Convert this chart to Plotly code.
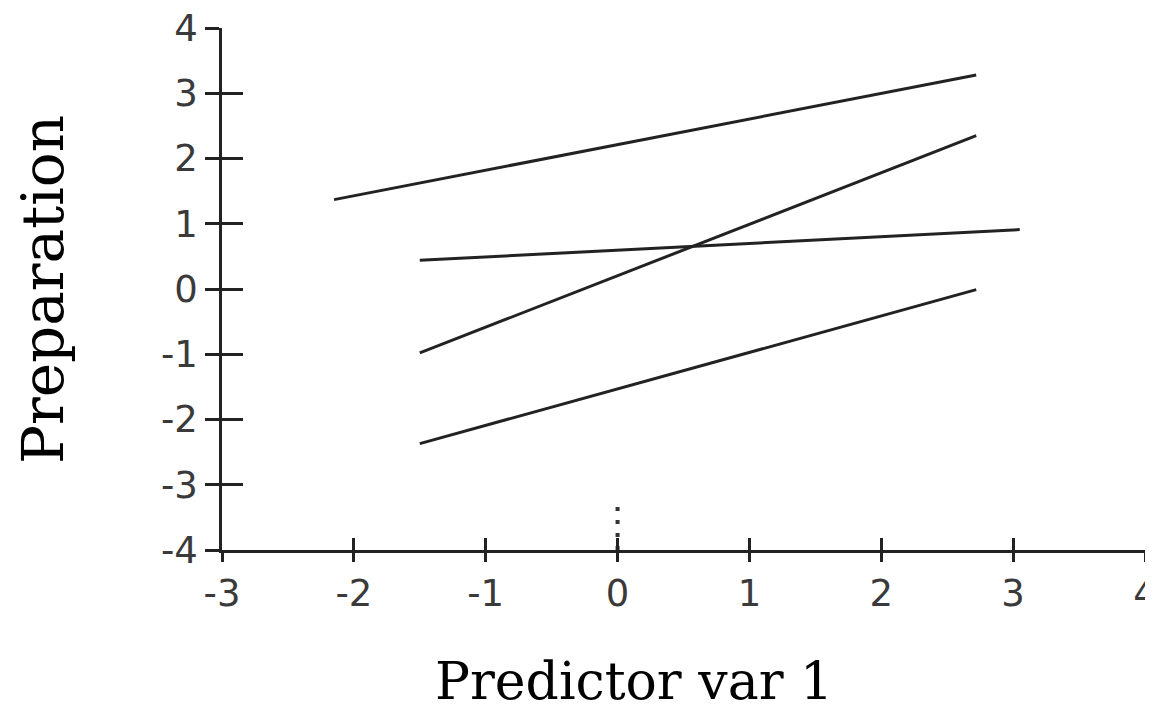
import plotly.graph_objects as go

# ---- data ----
line_names = ["Line A", "Line B", "Line C", "Line D"]
line_x_start = [-2.15, -1.5, -1.5, -1.5]
line_x_end = [2.72, 2.72, 3.05, 2.72]
line_y_start = [1.37, -0.98, 0.44, -2.37]
line_y_end = [3.28, 2.35, 0.91, -0.01]

mean_marker_x = [0, 0]
mean_marker_y = [-4.0, -3.34]

x_ticks = [-3, -2, -1, 0, 1, 2, 3, 4]
y_ticks = [-4, -3, -2, -1, 0, 1, 2, 3, 4]

x_title = "Predictor var 1"
y_title = "Preparation"

fig = go.Figure()
for name, x0, x1, y0, y1 in zip(line_names, line_x_start, line_x_end, line_y_start, line_y_end):
    fig.add_trace(go.Scatter(x=[x0, x1], y=[y0, y1], mode="lines", name=name,
                             line=dict(color="#222222", width=3)))
fig.add_trace(go.Scatter(x=mean_marker_x, y=mean_marker_y, mode="lines",
                         line=dict(color="#333333", width=4, dash="4px,9px"), name="mean"))
# dummy trace for overlay axes (inner tick halves)
fig.add_trace(go.Scatter(x=[None], y=[None], xaxis="x2", yaxis="y2", showlegend=False))

tick_font = dict(family="DejaVu Sans", size=37, color="#3a3a3a")

axis_common = dict(showgrid=False, zeroline=False, automargin=False)

fig.update_layout(
    width=1145, height=702,
    margin=dict(l=214, r=8, t=20, b=160),
    paper_bgcolor="white", plot_bgcolor="white",
    showlegend=False,
    xaxis=dict(range=[-3, 4], tickvals=x_ticks, ticktext=[str(v) for v in x_ticks],
               showline=True, linecolor="#222222", linewidth=2.5,
               ticks="outside", ticklen=9, tickwidth=2.5, tickcolor="#222222",
               tickfont=tick_font, ticklabeloverflow="allow", **axis_common),
    yaxis=dict(range=[-4, 4], tickvals=y_ticks, ticktext=[str(v) for v in y_ticks],
               showline=True, linecolor="#222222", linewidth=2.5,
               ticks="outside", ticklen=14, tickwidth=2.5, tickcolor="#222222",
               tickfont=tick_font, ticklabeloverflow="allow", **axis_common),
    xaxis2=dict(range=[-3, 4], tickvals=x_ticks, overlaying="x", anchor="y2",
                showline=False, showticklabels=False,
                ticks="inside", ticklen=12, tickwidth=2.5, tickcolor="#222222", **axis_common),
    yaxis2=dict(range=[-4, 4], tickvals=y_ticks, overlaying="y", anchor="x2",
                showline=False, showticklabels=False,
                ticks="inside", ticklen=21, tickwidth=2.5, tickcolor="#222222", **axis_common),
    annotations=[
        dict(text=x_title, xref="paper", yref="paper", x=0.4464, y=-0.251,
             xanchor="center", yanchor="middle", showarrow=False,
             font=dict(family="DejaVu Serif", size=52, color="#000000")),
        dict(text=y_title, xref="paper", yref="paper", x=-0.1939, y=0.498,
             xanchor="center", yanchor="middle", showarrow=False, textangle=-90,
             font=dict(family="DejaVu Serif", size=58, color="#000000")),
    ],
)

fig.write_html("out.html")
